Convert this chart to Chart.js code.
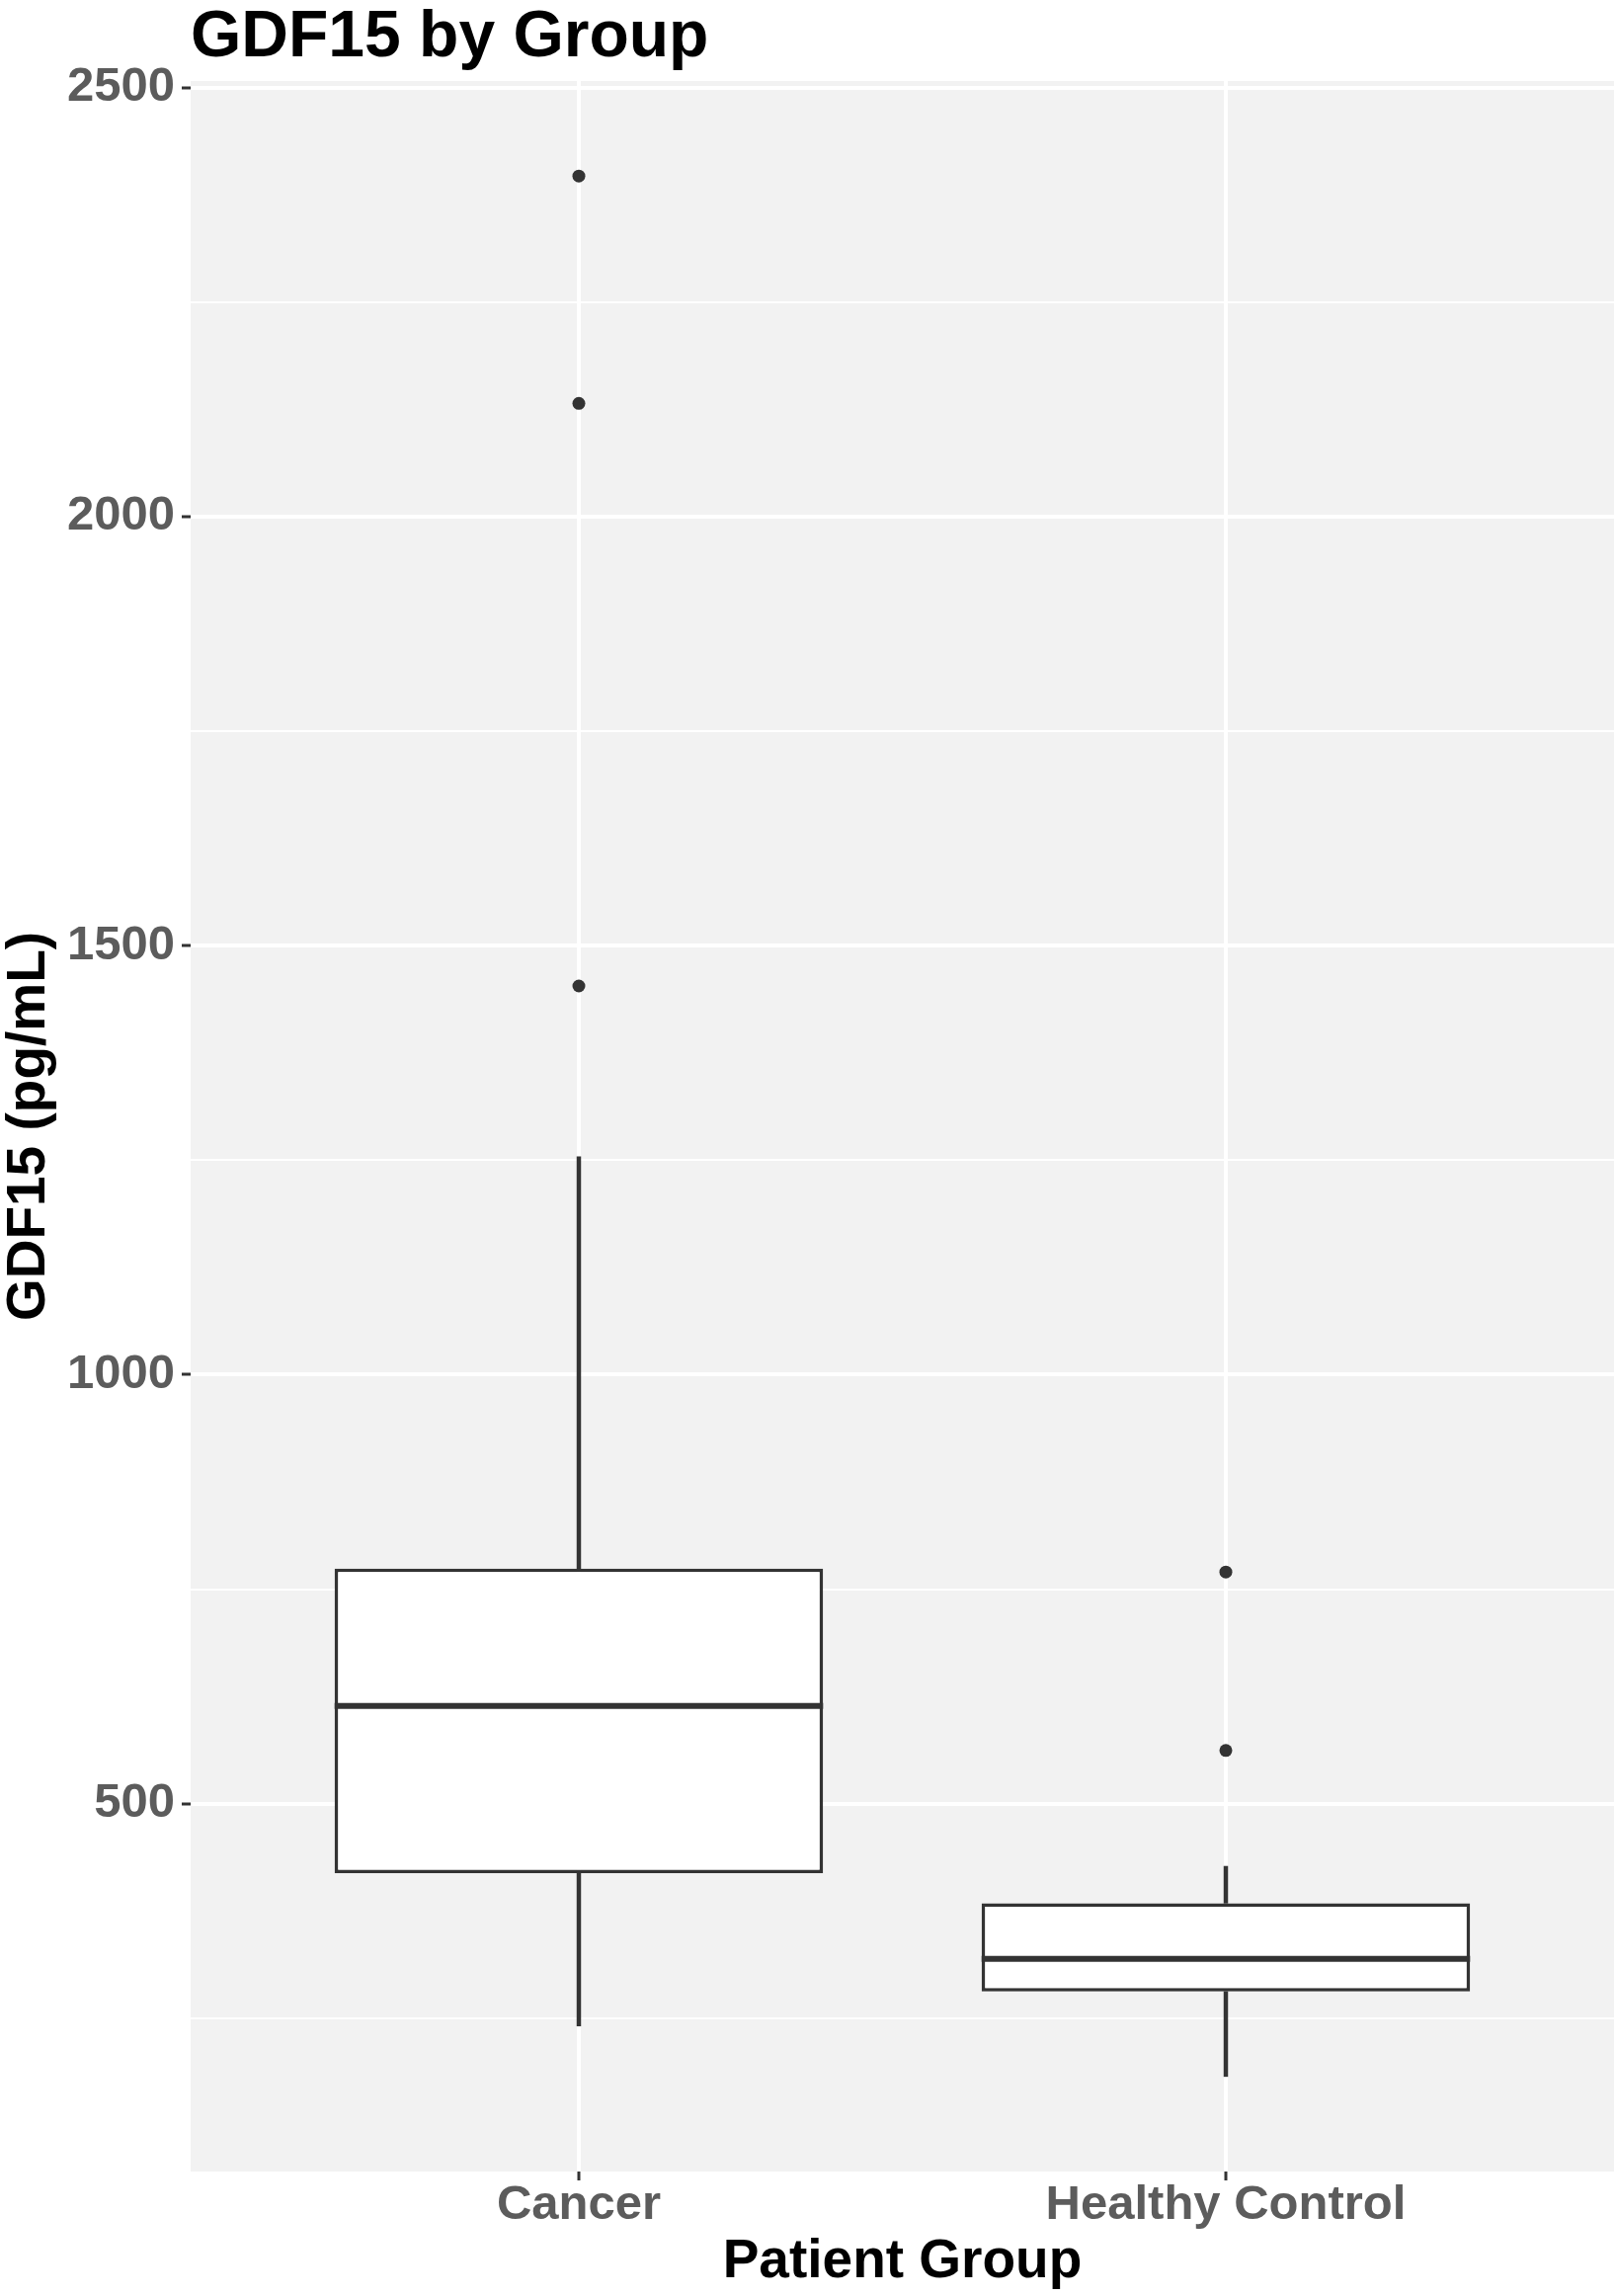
<!DOCTYPE html>
<html>
<head>
<meta charset="utf-8">
<title>GDF15 by Group</title>
<script src="https://cdn.jsdelivr.net/npm/chart.js@4.4.1/dist/chart.umd.min.js"></script>
<style>
  html, body { margin: 0; padding: 0; background: #fff; overflow: hidden; }
  #wrap { width: 1636px; height: 2324px; }
  canvas { display: block; }
</style>
</head>
<body>
<div id="wrap"><canvas id="chart" width="1636" height="2324"></canvas></div>
<script>
// Boxplot summary per group (pg/mL)
const groups = ['Cancer', 'Healthy Control'];
const groupPos = [1, 2];
const whiskerLow = [241, 182];
const q1 = [419, 281];
const median = [614, 319];
const q3 = [774, 384];
const whiskerHigh = [1254, 427];
const outliers = [[1453, 2132, 2397], [562, 770]];

// y ticks: labelled every 500, minor grid at the 250s
const yMajor = [500, 1000, 1500, 2000, 2500];
const yMinor = [250, 750, 1250, 1750, 2250];

const DARK = '#333333';
const LABEL_GREY = '#5c5c5c';

// ggplot-style limits: 5% expansion on y, 0.6 on the discrete x
const allVals = [...whiskerLow, ...whiskerHigh, ...outliers.flat()];
const dataLo = Math.min(...allVals);
const dataHi = Math.max(...allVals);
const yPad = (dataHi - dataLo) * 0.05;

Chart.defaults.font.family = "'Liberation Sans', Arial, Helvetica, sans-serif";

// Grey panel behind the grid
const panelBg = {
  id: 'panelBg',
  beforeDraw(chart) {
    const { ctx, chartArea: a } = chart;
    ctx.save();
    ctx.fillStyle = '#f2f2f2';
    ctx.fillRect(a.left, a.top, a.right - a.left, a.bottom - a.top);
    ctx.restore();
  }
};

// Median line across each box
const medianLines = {
  id: 'medianLines',
  afterDatasetsDraw(chart) {
    const meta = chart.getDatasetMeta(2);
    const yScale = chart.scales.y;
    const ctx = chart.ctx;
    ctx.save();
    ctx.strokeStyle = DARK;
    ctx.lineWidth = 6;
    meta.data.forEach((bar, i) => {
      const py = yScale.getPixelForValue(median[i]);
      ctx.beginPath();
      ctx.moveTo(bar.x - bar.width / 2, py);
      ctx.lineTo(bar.x + bar.width / 2, py);
      ctx.stroke();
    });
    ctx.restore();
  }
};

const isMajor = v => yMajor.includes(v);

new Chart(document.getElementById('chart'), {
  type: 'bar',
  data: {
    datasets: [
      {
        label: 'lower whisker',
        data: groupPos.map((x, i) => ({ x, y: [whiskerLow[i], q1[i]] })),
        backgroundColor: DARK,
        borderWidth: 0,
        barThickness: 3.8,
        grouped: false,
        order: 2
      },
      {
        label: 'upper whisker',
        data: groupPos.map((x, i) => ({ x, y: [q3[i], whiskerHigh[i]] })),
        backgroundColor: DARK,
        borderWidth: 0,
        barThickness: 3.8,
        grouped: false,
        order: 2
      },
      {
        label: 'box',
        data: groupPos.map((x, i) => ({ x, y: [q1[i], q3[i]] })),
        backgroundColor: '#ffffff',
        borderColor: DARK,
        borderWidth: 3.6,
        borderSkipped: false,
        categoryPercentage: 1,
        barPercentage: 0.755,
        grouped: false,
        order: 1
      },
      {
        type: 'scatter',
        label: 'outliers',
        data: outliers.flatMap((vals, i) => vals.map(v => ({ x: groupPos[i], y: v }))),
        backgroundColor: DARK,
        borderWidth: 0,
        pointRadius: 6.5,
        pointHoverRadius: 6.5,
        order: 0
      }
    ]
  },
  options: {
    responsive: false,
    animation: false,
    events: [],
    layout: { autoPadding: false, padding: { left: 0, right: 2, top: 0, bottom: 0 } },
    scales: {
      x: {
        type: 'linear',
        min: 0.4,
        max: 2.6,
        offset: false,
        bounds: 'data',
        afterBuildTicks: s => { s.ticks = groupPos.map(v => ({ value: v })); },
        afterFit: s => { s.height = 126; },
        ticks: {
          callback: v => groups[groupPos.indexOf(v)] ?? '',
          color: LABEL_GREY,
          font: { size: 49, weight: 'bold', lineHeight: 1 },
          padding: 1,
          maxRotation: 0,
          autoSkip: false
        },
        grid: {
          color: '#ffffff',
          lineWidth: 4,
          offset: false,
          drawTicks: true,
          tickLength: 9,
          tickWidth: 3,
          tickColor: DARK
        },
        border: { display: false },
        title: {
          display: true,
          text: 'Patient Group',
          color: '#000000',
          font: { size: 55, weight: 'bold', lineHeight: 1 },
          padding: { top: 0, bottom: 6.5 }
        }
      },
      y: {
        type: 'linear',
        min: dataLo - yPad,
        max: dataHi + yPad,
        bounds: 'data',
        beginAtZero: false,
        afterBuildTicks: s => {
          s.ticks = [...yMinor, ...yMajor].sort((a, b) => a - b).map(v => ({ value: v }));
        },
        afterFit: s => { s.width = 193; },
        ticks: {
          callback: v => (isMajor(v) ? String(v) : ''),
          color: LABEL_GREY,
          font: { size: 49, weight: 'bold', lineHeight: 1 },
          padding: 7,
          autoSkip: false
        },
        grid: {
          color: '#ffffff',
          lineWidth: c => (c.tick && isMajor(c.tick.value) ? 4 : 2),
          drawTicks: true,
          tickLength: 9,
          tickWidth: 3,
          tickColor: c => (c.tick && isMajor(c.tick.value) ? DARK : 'rgba(0,0,0,0)')
        },
        border: { display: false },
        title: {
          display: true,
          text: 'GDF15 (pg/mL)',
          color: '#000000',
          font: { size: 55, weight: 'bold', lineHeight: 1 },
          padding: { top: 2.5, bottom: 0 }
        }
      }
    },
    plugins: {
      legend: { display: false },
      tooltip: { enabled: false },
      title: {
        display: true,
        text: 'GDF15 by Group',
        align: 'start',
        fullSize: false,
        color: '#000000',
        font: { size: 66, weight: 'bold', lineHeight: 1 },
        padding: { top: 6, bottom: 10 }
      }
    }
  },
  plugins: [panelBg, medianLines]
});
</script>
</body>
</html>
